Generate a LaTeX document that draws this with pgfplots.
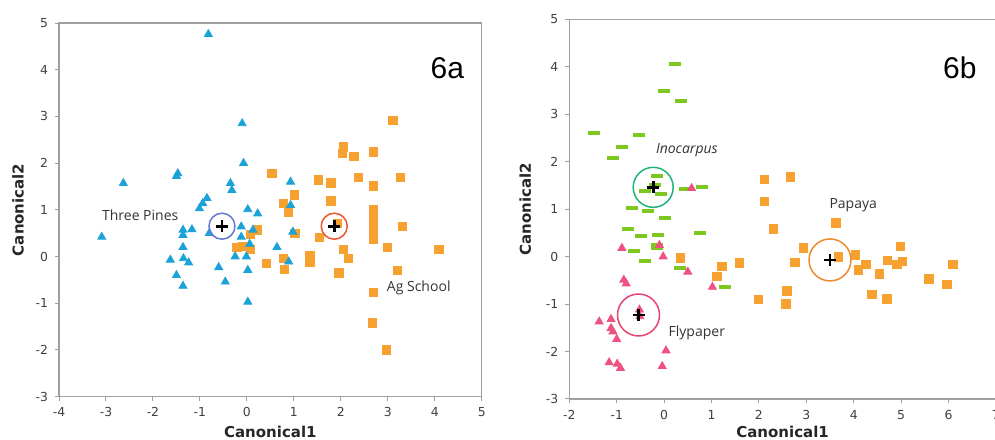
\documentclass[border=0pt]{standalone}
\usepackage{fontspec}
\setmainfont{DejaVu Sans}
\newfontfamily\annot{Open Sans}
\newfontfamily\bigf{Liberation Sans}
\usepackage{pgfplots}
\pgfplotsset{compat=1.18}
\definecolor{tpblue}{HTML}{1BA3D8}
\definecolor{agorange}{HTML}{F7A130}
\definecolor{inogreen}{HTML}{7CC81E}
\definecolor{flypink}{HTML}{EF5282}
\definecolor{cblue}{HTML}{6777D6}
\definecolor{cred}{HTML}{EE5533}
\definecolor{cgreen}{HTML}{1EB47A}
\definecolor{cpink}{HTML}{E6446E}
\definecolor{corange}{HTML}{EE8A2A}
\pgfplotsset{
 panel/.style={
  scale only axis, anchor=south west, clip=false,
  axis line style={draw=gray!75, line width=0.6pt},
  tick align=outside, xtick pos=bottom, ytick pos=left,
  major tick length=2pt, tick style={gray!75, line width=0.5pt},
  ticklabel style={font=\fontsize{6.2}{7}\selectfont, text=black!75},
  /pgf/number format/assume math mode=true,
  label style={font=\bfseries\fontsize{7.5}{9}\selectfont, text=black!85},
  xlabel={Canonical1}, ylabel={Canonical2},
  ymin=-3, ymax=5, ytick={-3,...,5},
 },
 tri/.style={only marks, mark=triangle*, mark size=2.3pt, mark options={draw=#1, fill=#1}},
 sq/.style={only marks, mark=square*, mark size=2.1pt, mark options={draw=#1, fill=#1, rounded corners=0.6pt}},
 dash/.style={only marks, mark=-, mark size=3pt, mark options={draw=#1, line width=2pt}},
 ring/.style 2 args={only marks, mark=o, mark size=#2, mark options={draw=#1, line width=0.75pt}},
 cent/.style={only marks, mark=+, mark size=3pt, mark options={draw=black, line width=1.3pt}},
}
\begin{document}
\begin{tikzpicture}
\path[use as bounding box] (0,0) rectangle (497.5pt,219.5pt);
% ---------------- 6a ----------------
\begin{axis}[panel, at={(29.5pt,21.15pt)}, width=211.35pt, height=186.85pt,
  xmin=-4, xmax=5, xtick={-4,...,5},
  xlabel style={at={(axis description cs:0.5,-0.094)}, anchor=center},
  ylabel style={at={(axis description cs:-0.097,0.5)}, anchor=center}]
\addplot[sq=agorange] coordinates {
(3.11,2.92) (2.06,2.35) (2.04,2.21) (2.28,2.14) (2.69,2.24) (0.53,1.78)
(1.52,1.64) (1.79,1.58) (2.38,1.70) (2.69,1.51) (3.27,1.69) (1.01,1.32)
(0.78,1.14) (1.79,1.19) (0.89,0.96) (2.69,1.00) (2.69,0.85) (2.69,0.71)
(2.69,0.53) (2.69,0.37) (3.31,0.64) (1.93,0.71) (1.55,0.41) (1.02,0.50)
(0.21,0.57) (0.07,0.48) (-0.21,0.20) (-0.10,0.22) (0.07,0.15) (0.41,-0.15)
(0.78,-0.04) (0.80,-0.27) (2.06,0.15) (2.16,-0.04) (2.99,0.19) (1.34,0.03)
(1.34,-0.11) (1.96,-0.35) (3.21,-0.29) (4.09,0.15) (2.69,-0.77) (2.67,-1.42)
(2.97,-2.00)};
\addplot[tri=tpblue] coordinates {
(-0.82,4.76) (-0.10,2.85) (-0.07,2.00) (-2.63,1.57) (-1.47,1.78) (-1.50,1.72)
(-0.35,1.57) (-0.32,1.42) (-0.85,1.25) (-0.94,1.14) (-1.01,1.03) (0.02,1.01)
(0.23,0.92) (0.93,1.60) (0.93,1.10) (-3.09,0.42) (-1.36,0.57) (-1.17,0.58)
(-1.36,0.46) (-0.80,0.50) (-0.12,0.64) (0.13,0.57) (-0.12,0.42) (-1.36,0.20)
(0.06,0.27) (-1.63,-0.07) (-1.35,-0.04) (-1.24,-0.13) (-0.25,0.00) (-0.01,0.00)
(-1.50,-0.40) (-0.60,-0.23) (0.02,-0.29) (-1.36,-0.63) (-0.46,-0.54) (0.02,-0.97)
(0.98,0.53) (0.64,0.20) (0.89,-0.11)};
\addplot[ring={cblue}{6.5pt}] coordinates {(-0.53,0.65)};
\addplot[ring={cred}{6.5pt}] coordinates {(1.86,0.65)};
\addplot[cent] coordinates {(-0.53,0.65) (1.86,0.65)};
\node[font=\annot\fontsize{7}{8}\selectfont, text=black!80] at (axis cs:-2.27,0.89) {Three Pines};
\node[font=\annot\fontsize{7}{8}\selectfont, text=black!80] at (axis cs:3.66,-0.68) {Ag School};
\node[font=\bigf\fontsize{15}{17}\selectfont] at (axis cs:4.27,4.03) {6a};
\end{axis}
% ---------------- 6b ----------------
\begin{axis}[panel, at={(284.65pt,20pt)}, width=213.3pt, height=189.85pt,
  xmin=-2, xmax=7, xtick={-2,...,7},
  xlabel style={at={(axis description cs:0.5,-0.087)}, anchor=center},
  ylabel style={at={(axis description cs:-0.103,0.5)}, anchor=center}]
\addplot[sq=agorange] coordinates {
(0.34,-0.03) (1.22,-0.21) (1.11,-0.42) (1.59,-0.13) (2.11,1.63) (2.67,1.68)
(2.11,1.16) (2.31,0.58) (3.62,0.71) (2.94,0.18) (2.76,-0.12) (3.68,-0.01)
(4.04,0.04) (4.26,-0.16) (4.10,-0.28) (4.54,-0.36) (4.71,-0.08) (4.99,0.21)
(4.91,-0.16) (5.03,-0.10) (5.59,-0.47) (5.97,-0.59) (6.09,-0.17) (4.38,-0.80)
(4.70,-0.89) (2.59,-0.72) (2.57,-1.00) (1.99,-0.90)};
\addplot[dash=inogreen] coordinates {
(0.23,4.06) (0.00,3.48) (0.36,3.28) (-1.47,2.61) (-0.54,2.56) (-0.88,2.32)
(-1.07,2.07) (-0.16,1.69) (-0.40,1.39) (-0.19,1.51) (-0.07,1.32) (0.44,1.42)
(0.79,1.46) (-0.67,1.02) (-0.35,0.96) (0.02,0.81) (-0.76,0.58) (-0.49,0.44)
(-0.12,0.46) (0.76,0.49) (-0.16,0.25) (-0.16,0.18) (-0.64,0.11) (-0.40,-0.10)
(0.34,-0.24) (1.28,-0.63)};
\addplot[tri=flypink] coordinates {
(0.58,1.44) (-0.89,0.18) (-0.10,0.24) (-0.02,0.00) (0.50,-0.32) (-0.85,-0.49)
(-0.80,-0.57) (1.02,-0.64) (-0.52,-1.12) (-0.51,-1.26) (-1.37,-1.37) (-1.12,-1.32)
(-1.12,-1.51) (-1.08,-1.58) (-1.00,-1.74) (0.04,-1.98) (-1.16,-2.23) (-0.99,-2.26)
(-0.92,-2.35) (-0.04,-2.31)};
\addplot[ring={cgreen}{10pt}] coordinates {(-0.23,1.46)};
\addplot[ring={cpink}{10.5pt}] coordinates {(-0.54,-1.23)};
\addplot[ring={corange}{10.5pt}] coordinates {(3.50,-0.07)};
\addplot[cent] coordinates {(-0.23,1.46) (-0.54,-1.23) (3.50,-0.07)};
\node[font=\annot\itshape\fontsize{7}{8}\selectfont, text=black!80] at (axis cs:0.48,2.25) {Inocarpus};
\node[font=\annot\fontsize{7}{8}\selectfont, text=black!80] at (axis cs:0.69,-1.61) {Flypaper};
\node[font=\annot\fontsize{7}{8}\selectfont, text=black!80] at (axis cs:3.99,1.08) {Papaya};
\node[font=\bigf\fontsize{15}{17}\selectfont] at (axis cs:6.24,3.97) {6b};
\end{axis}
\end{tikzpicture}
\end{document}
